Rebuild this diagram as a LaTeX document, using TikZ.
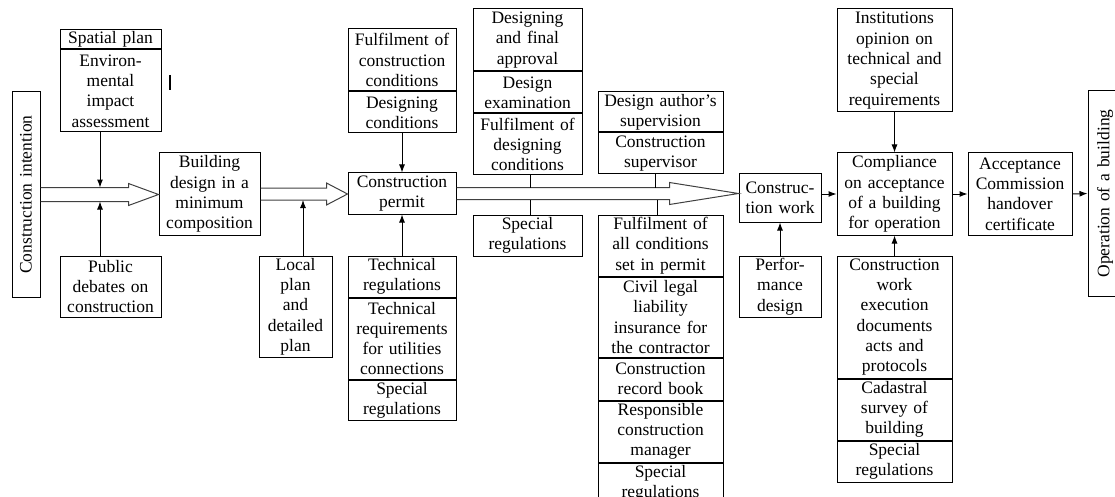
\documentclass[tikz,border=0pt]{standalone}
\usepackage{fontspec}
\setmainfont{Liberation Serif}
\usepackage{graphicx}
\usepackage{tikz}
\usetikzlibrary{positioning,calc,arrows.meta}

\begin{document}
\begin{tikzpicture}[x=1pt,y=-1pt,
	box/.style = {draw, line width=1pt, align=center, inner sep=0pt, font=\fontsize{17.5}{20.3}\selectfont},
	pointer/.style = {-{Latex[length=8pt,width=6pt]}, line width=1pt},
	link/.style = {-, line width=1pt},
	hollow/.style = {draw=black!75, line width=1pt, line join=miter}]
	\useasboundingbox (0,0) rectangle (1115,497);
	\node[box, text width=28pt, minimum height=205pt] (intent) at (26,194.5) {\rotatebox{90}{Construction intention}};
	\node[box, text width=101pt, minimum height=19pt] (spatial) at (110.5,39.5) {Spatial plan};
	\node[box, text width=101pt, minimum height=82pt, below=0pt of spatial] (envimp) {Environ-\\mental\\impact\\assessment};
	\node[box, text width=101pt, minimum height=61pt] (public) at (110.5,286.5) {Public\\debates on\\construction};
	\node[box, text width=101pt, minimum height=82pt] (building) at (209.5,194) {Building\\design in a\\minimum\\composition};
	\node[box, text width=73pt, minimum height=101pt] (localplan) at (295.5,306.5) {Local\\plan\\and\\detailed\\plan};
	\node[box, text width=108pt, minimum height=41pt] (permit) at (402,193.5) {Construction\\permit};
	\node[box, text width=108pt, minimum height=62pt] (fulfcons) at (402,60) {Fulfilment of\\construction\\conditions};
	\node[box, text width=108pt, minimum height=41pt, below=0pt of fulfcons] (desigcond) {Designing\\conditions};
	\node[box, text width=108pt, minimum height=41pt] (techreg) at (402,276.5) {Technical\\regulations};
	\node[box, text width=108pt, minimum height=81pt, below=0pt of techreg] (techreq) {Technical\\requirements\\for utilities\\connections};
	\node[box, text width=108pt, minimum height=40pt, below=0pt of techreq] (specreg1) {Special\\regulations};
	\node[box, text width=109pt, minimum height=62pt] (finalappr) at (527.5,40) {Designing\\and final\\approval};
	\node[box, text width=109pt, minimum height=41pt, below=0pt of finalappr] (desexam) {Design\\examination};
	\node[box, text width=109pt, minimum height=61pt, below=0pt of desexam] (fulfdes) {Fulfilment of\\designing\\conditions};
	\node[box, text width=109pt, minimum height=41pt] (specreg2) at (527.5,235.5) {Special\\regulations};
	\node[box, text width=125pt, minimum height=40pt] (authsup) at (660.5,112) {Design author’s\\supervision};
	\node[box, text width=125pt, minimum height=41pt, below=0pt of authsup] (constsup) {Construction\\supervisor};
	\node[box, text width=125pt, minimum height=61pt] (fulfall) at (660.5,245.5) {Fulfilment of\\all conditions\\set in permit};
	\node[box, text width=125pt, minimum height=80pt, below=0pt of fulfall] (civil) {Civil legal\\liability\\insurance for\\the contractor};
	\node[box, text width=125pt, minimum height=42pt, below=0pt of civil] (record) {Construction\\record book};
	\node[box, text width=125pt, minimum height=61pt, below=0pt of record] (respmgr) {Responsible\\construction\\manager};
	\node[box, text width=125pt, minimum height=40pt, below=0pt of respmgr] (specreg3) {Special\\regulations};
	\node[box, text width=82pt, minimum height=48pt] (work) at (780,198) {Construc-\\tion work};
	\node[box, text width=82pt, minimum height=61pt] (perf) at (780,286.5) {Perfor-\\mance\\design};
	\node[box, text width=115pt, minimum height=103pt] (inst) at (894.5,60.5) {Institutions\\opinion on\\technical and\\special\\requirements};
	\node[box, text width=115pt, minimum height=82pt] (compliance) at (894.5,194) {Compliance\\on acceptance\\of a building\\for operation};
	\node[box, text width=115pt, minimum height=122pt] (execdocs) at (894.5,317) {Construction\\work\\execution\\documents\\acts and\\protocols};
	\node[box, text width=115pt, minimum height=61pt, below=0pt of execdocs] (cadastral) {Cadastral\\survey of\\building};
	\node[box, text width=115pt, minimum height=41pt, below=0pt of cadastral] (specreg4) {Special\\regulations};
	\node[box, text width=104pt, minimum height=82pt] (acceptance) at (1020,194) {Acceptance\\Commission\\handover\\certificate};
	\node[box, text width=34pt, minimum height=205pt] (operation) at (1105,193.5) {\rotatebox{90}{Operation of a building}};

	\coordinate (t1) at (intent.east -| building.west);
	\coordinate (t2) at (building.east -| permit.west);
	\coordinate (t3) at (permit.east -| work.west);
	\draw[hollow] ($(intent.east)+(0,-7)$) -- ($(t1)+(-30,-7)$) -- ($(t1)+(-30,-11)$) -- (t1) -- ($(t1)+(-30,11)$) -- ($(t1)+(-30,7)$) -- ($(intent.east)+(0,7)$);
	\draw[hollow] ($(building.east)+(0,-6)$) -- ($(t2)+(-21,-6)$) -- ($(t2)+(-21,-11)$) -- (t2) -- ($(t2)+(-21,11)$) -- ($(t2)+(-21,6)$) -- ($(building.east)+(0,6)$);
	\draw[hollow] ($(permit.east)+(0,-6)$) -- ($(t3)+(-69,-6)$) -- ($(t3)+(-69,-11)$) -- (t3) -- ($(t3)+(-69,11)$) -- ($(t3)+(-69,6)$) -- ($(permit.east)+(0,6)$);

	\coordinate (j1) at (100,187.5);
	\coordinate (j2) at (100,201.5);
	\coordinate (j3) at (303,200);
	\coordinate (j4) at (530,187.5);
	\coordinate (j5) at (530,199.5);
	\coordinate (j6) at (655,187.5);
	\coordinate (j7) at (657,199.5);

	\draw[pointer] (envimp.south -| j1) to (j1);
	\draw[pointer] (public.north -| j2) to (j2);
	\draw[pointer] (localplan.north -| j3) to (j3);
	\draw[pointer] (desigcond.south) to (permit.north);
	\draw[pointer] (techreg.north) to (permit.south);
	\draw[link] (fulfdes.south -| j4) to (j4);
	\draw[link] (specreg2.north -| j5) to (j5);
	\draw[link] (constsup.south -| j6) to (j6);
	\draw[link] (fulfall.north -| j7) to (j7);
	\draw[pointer] (perf.north) to (work.south);
	\draw[pointer] (work.east |- compliance.west) to (compliance.west);
	\draw[pointer] (inst.south) to (compliance.north);
	\draw[pointer] (execdocs.north) to (compliance.south);
	\draw[pointer] (compliance.east) to (acceptance.west);
	\draw[pointer] (acceptance.east) to (operation.west);

	\draw[line width=2pt] (170,75) to (170,90);
\end{tikzpicture}
\end{document}
